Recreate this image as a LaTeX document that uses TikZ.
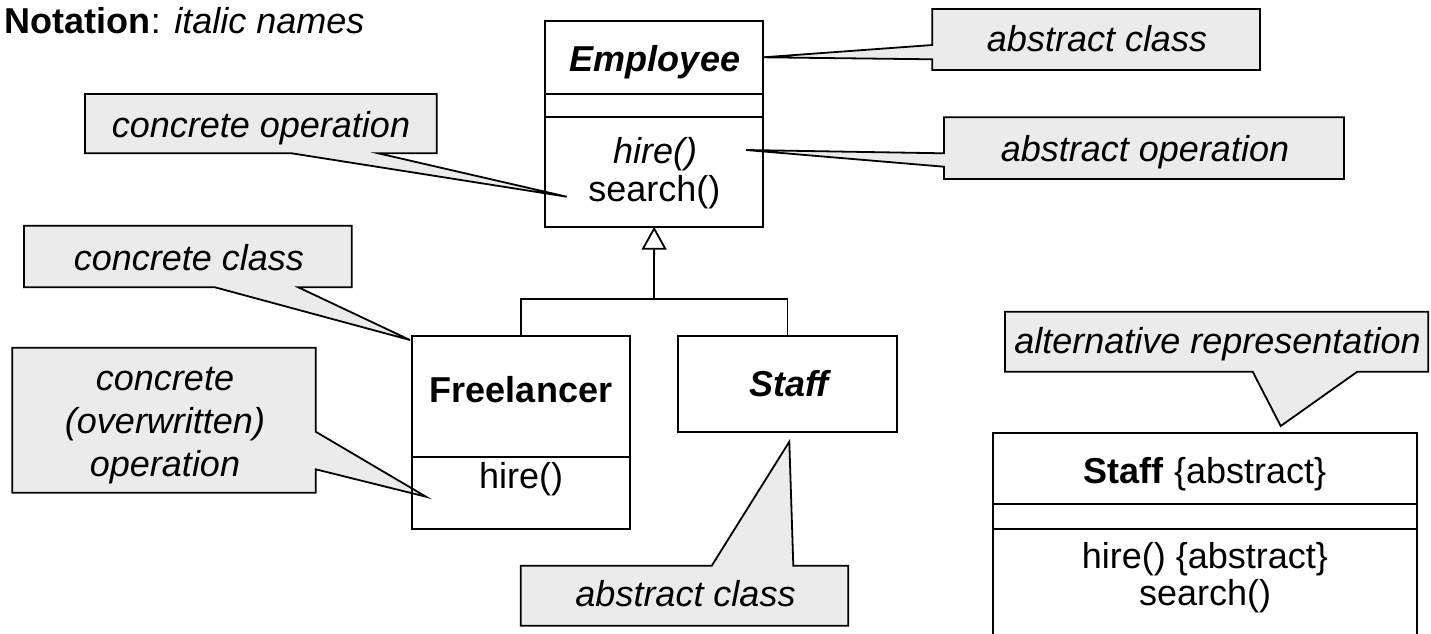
\documentclass[tikz,border=0pt]{standalone}
\usepackage{fontspec}
\setmainfont{Liberation Sans}
\usetikzlibrary{arrows.meta}
\definecolor{notefill}{RGB}{235,235,235}
% stacked, centred lines whose baseline is that of the first line
\newcommand\stackedlines[1]{\vtop{\halign{\hfil##\hfil\cr#1\crcr}}}
\begin{document}
\begin{tikzpicture}[x=1pt,y=-1pt,line width=1.8pt,line join=miter,
  lbl/.style={anchor=base,inner sep=0pt,outer sep=0pt,font=\fontsize{36}{43.3}\selectfont},
  classbox/.style={draw,inner sep=0pt,outer sep=0pt,anchor=north west},
  note/.style={draw,fill=notefill},
  inherit/.style={-{Triangle[fill=white,length=23pt,width=25pt]}},
]
\clip (0,0) rectangle (1431,633);

% ---------- heading ----------
\node[lbl,anchor=base west] (heading) at (5,33.3) {\textbf{Notation}: \textit{italic names}};

% ---------- class boxes ----------
\node[classbox,minimum width=218.3pt,minimum height=206pt] (emp) at (545,20.7) {};
\node[classbox,minimum width=218.3pt,minimum height=192.7pt] (fre) at (411.7,336) {};
\node[classbox,minimum width=218.4pt,minimum height=96.6pt] (staff) at (678.3,335.7) {};
\node[classbox,minimum width=424pt,minimum height=230pt] (alt) at (992.7,432.7) {};

% pointer tips of the notes
\coordinate (tipOp)    at (566.7,196.7);
\coordinate (tipCls)   at (410,340);
\coordinate (tipOver)  at (426,496.7);
\coordinate (tipAbsC)  at (763.3,57.3);
\coordinate (tipAbsOp) at (746,150);
\coordinate (tipStaff) at (789.3,441.7);
\coordinate (tipAlt)   at (1280.7,426);

% ---------- notes ----------
\draw[note] (85,94) -- (436.7,94) -- (436.7,153.3) -- (378.3,153.3) -- (tipOp)
  -- (291.7,153.3) -- (85,153.3) -- cycle;
\node[lbl] (nOp) at (261,137.3) {\itshape concrete operation};

\draw[note] (24,225.7) -- (351.7,225.7) -- (351.7,287.3) -- (298.3,287.3) -- (tipCls)
  -- (215,287.3) -- (24,287.3) -- cycle;
\node[lbl] (nCls) at (189,270.7) {\itshape concrete class};

\draw[note] (12.3,347.7) -- (315.7,347.7) -- (315.7,431.7) -- (tipOver)
  -- (315.7,469.3) -- (315.7,492.7) -- (12.3,492.7) -- cycle;
\node[lbl] (nOver) at (165,390) {\itshape\stackedlines{concrete\cr (overwritten)\cr operation}};

\draw[note] (932.3,9) -- (1260,9) -- (1260,70) -- (932.3,70) -- (932.3,59.3)
  -- (tipAbsC) -- (932.3,45) -- cycle;
\node[lbl] (nAbsC) at (1097,51.7) {\itshape abstract class};

\draw[note] (944,117.3) -- (1344,117.3) -- (1344,179) -- (944,179) -- (944,166.7)
  -- (tipAbsOp) -- (944,153.3) -- cycle;
\node[lbl] (nAbsOp) at (1145,161.7) {\itshape abstract operation};

\draw[note] (520.7,565.7) -- (711.7,565.7) -- (tipStaff) -- (793.3,565.7)
  -- (848.3,565.7) -- (848.3,625.7) -- (520.7,625.7) -- cycle;
\node[lbl] (nStaff) at (685.5,606.7) {\itshape abstract class};

\draw[note] (1005,311.7) -- (1428.3,311.7) -- (1428.3,371.7) -- (1357.3,371.7)
  -- (tipAlt) -- (1252.7,371.7) -- (1005,371.7) -- cycle;
\node[lbl] (nAlt) at (1217.5,353.3) {\itshape alternative representation};

% ---------- class outlines on top ----------
\draw (emp.north west) rectangle (emp.south east);
\draw (fre.north west) rectangle (fre.south east);
\draw (staff.north west) rectangle (staff.south east);

% compartments
\path (emp.north west) ++(0,73.6) coordinate (e1) ++(0,23) coordinate (e2);
\draw (e1) -- (e1 -| emp.east);
\draw (e2) -- (e2 -| emp.east);
\path (fre.north west) ++(0,120.7) coordinate (f1);
\draw (f1) -- (f1 -| fre.east);
\path (alt.north west) ++(0,71.6) coordinate (a1) ++(0,25) coordinate (a2);
\draw (a1) -- (a1 -| alt.east);
\draw (a2) -- (a2 -| alt.east);

% ---------- class texts ----------
\node[lbl] (empName) at (655,71.7) {\bfseries\itshape Employee};
\node[lbl] (empHire) at (655,163) {\itshape hire()};
\node[lbl] (empSearch) at (654.3,201.7) {search()};
\node[lbl] (freName) at (521,402.7) {\bfseries Freelancer};
\node[lbl] (freHire) at (521,488.3) {hire()};
\node[lbl] (staffName) at (789,396.7) {\bfseries\itshape Staff};
\node[lbl] (altName) at (1205,483.3) {\textbf{Staff} \{abstract\}};
\node[lbl] (altHire) at (1205,568.3) {hire() \{abstract\}};
\node[lbl] (altSearch) at (1205,605) {search()};

% ---------- generalization ----------
\coordinate (gen) at (654,299.3);
\draw (fre.north) |- (gen) -| (staff.north);
\draw[inherit] (gen) -- (emp.south);
\end{tikzpicture}
\end{document}
